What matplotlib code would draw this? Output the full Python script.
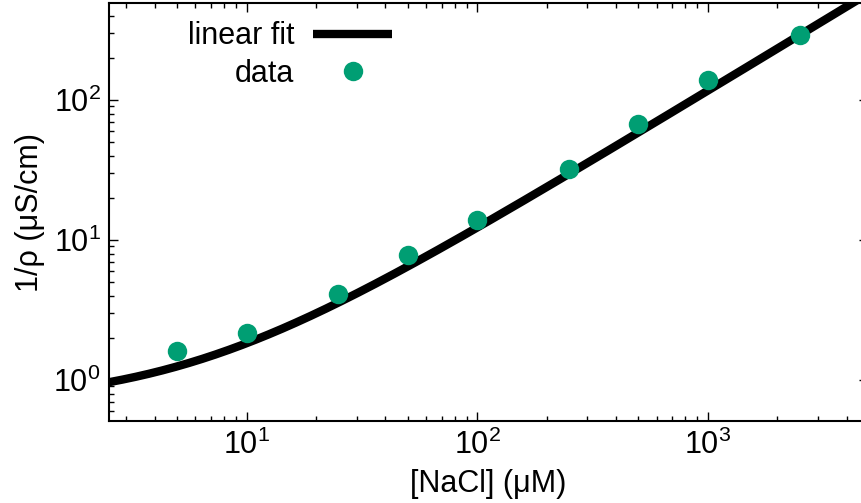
import numpy as np
import matplotlib.pyplot as plt
from matplotlib.ticker import LogLocator, LogFormatterMathtext, NullFormatter

plt.rcParams['font.family'] = ['Liberation Sans', 'DejaVu Sans']
plt.rcParams['mathtext.fontset'] = 'custom'
plt.rcParams['mathtext.rm'] = 'Liberation Sans'
plt.rcParams['mathtext.it'] = 'Liberation Sans'
plt.rcParams['mathtext.default'] = 'regular'

# measured conductivity vs NaCl concentration
conc = [5, 10, 25, 50, 100, 250, 500, 1000, 2500]
cond = [1.61, 2.17, 4.11, 7.8, 13.9, 32.1, 67.4, 139, 291]

# linear fit parameters (1/rho = a + b*[NaCl])
fit_a = 0.67
fit_b = 0.116

x_min, x_max = 2.53, 4950
y_min, y_max = 0.509, 493

fig = plt.figure(figsize=(8.61, 5.03), dpi=100)
ax = fig.add_axes([109 / 861, 1 - 421 / 503, 759 / 861, 418 / 503])

xf = np.logspace(np.log10(x_min), np.log10(x_max), 400)
ax.plot(xf, fit_a + fit_b * xf, color='black', lw=6, label='linear fit',
        solid_capstyle='butt')
ax.plot(conc, cond, 'o', color='#009E73', ms=14, mec='none', label='data')

ax.set_xscale('log')
ax.set_yscale('log')
ax.set_xlim(x_min, x_max)
ax.set_ylim(y_min, y_max)

for axis in (ax.xaxis, ax.yaxis):
    axis.set_major_locator(LogLocator(base=10))
    axis.set_minor_locator(LogLocator(base=10, subs=np.arange(2, 10)))
    axis.set_major_formatter(LogFormatterMathtext())
    axis.set_minor_formatter(NullFormatter())

ax.tick_params(which='both', direction='in', top=True, right=True,
               labelsize=22, width=1.0, pad=6)
ax.tick_params(which='major', length=6.5)
ax.tick_params(which='minor', length=3.6)
for s in ax.spines.values():
    s.set_linewidth(1.5)

ax.set_xlabel('[NaCl] (μM)', fontsize=22, labelpad=6)
ax.set_ylabel('1/ρ (μS/cm)', fontsize=22, labelpad=6)

ax.legend(loc='upper left', bbox_to_anchor=(0.08, 1.0), frameon=False,
          markerfirst=False, fontsize=22, handlelength=2.6,
          handletextpad=0.6, labelspacing=0.25, borderaxespad=0.2)

fig.savefig('out.png', dpi=100)
